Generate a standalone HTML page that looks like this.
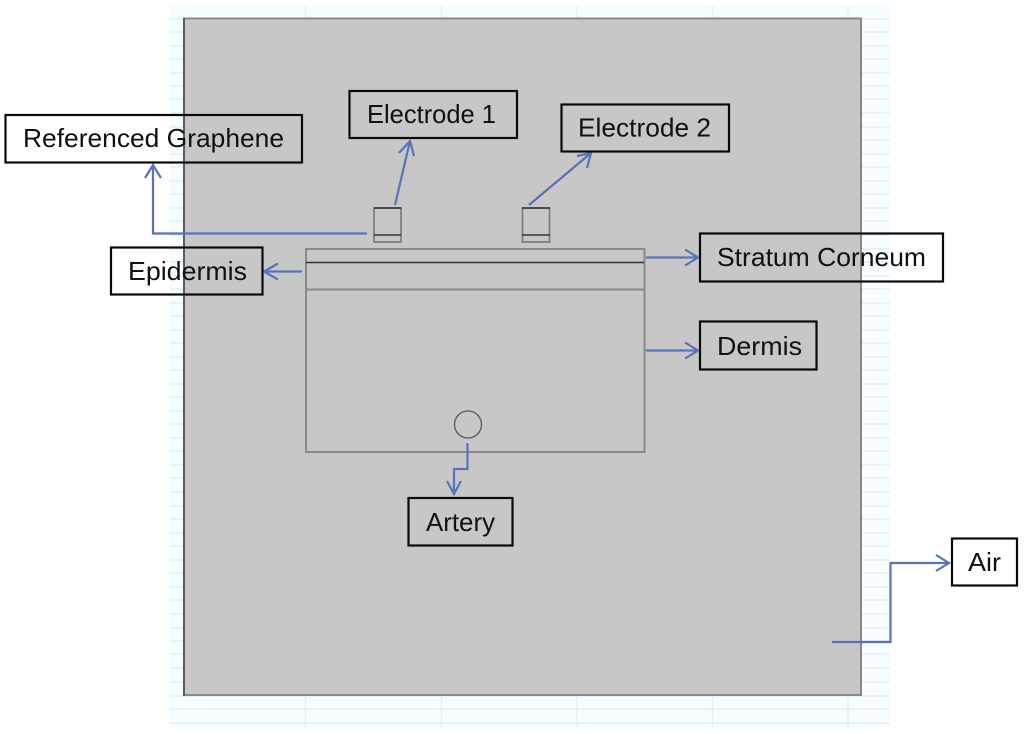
<!DOCTYPE html>
<html><head><meta charset="utf-8"><style>
html,body{margin:0;padding:0;background:#fff}
svg{display:block}
text{font-family:"Liberation Sans",sans-serif;font-size:26px;fill:#111}
.b{fill:none;stroke:#0a0a0a;stroke-width:2.2}
.a{fill:none;stroke:#5a72b8;stroke-width:2.2}
.g{fill:none;stroke:#8a8a8a;stroke-width:2}
.k{stroke:#333;stroke-width:1.5}
.gl{stroke:#e6eef0;stroke-width:1.5}
</style></head><body>
<svg width="1024" height="734" viewBox="0 0 1024 734" xmlns="http://www.w3.org/2000/svg">
<rect width="1024" height="734" fill="#fff"/>
<rect x="170" y="6" width="720" height="721" fill="#f6fcff"/>
<g class="gl">
<path d="M170 19H890M170 32H890M170 46H890M170 59H890M170 73H890M170 86H890M170 99H890M170 113H890M170 127H890M170 140H890M170 154H890M170 167H890M170 181H890M170 194H890M170 208H890M170 221H890M170 235H890M170 249H890M170 262H890M170 276H890M170 289H890M170 303H890M170 316H890M170 330H890M170 343H890M170 357H890M170 370H890M170 384H890M170 397H890M170 411H890M170 424H890M170 438H890M170 451H890M170 465H890M170 478H890M170 492H890M170 506H890M170 519H890M170 533H890M170 546H890M170 560H890M170 573H890M170 587H890M170 600H890M170 614H890M170 628H890M170 641H890M170 654H890M170 668H890M170 682H890M170 696H890M170 709H890M170 723H890" fill="none"/>
<path d="M305.500 6V727M441.500 6V727M577 6V727M712.500 6V727M848 6V727" fill="none"/>
</g>
<rect x="184" y="18.500" width="677" height="676.500" fill="#c8c7c7" stroke="#888" stroke-width="2"/>
<path d="M184 18V696" stroke="#5c5c5c" stroke-width="2"/>

<rect x="306" y="249" width="338.500" height="203" class="g"/>
<path d="M306 262.500H644" class="k"/>
<path d="M306 289.500H644" class="g"/>
<circle cx="468" cy="424.500" r="13.500" fill="none" stroke="#666" stroke-width="1.500"/>

<rect x="374" y="208" width="27" height="34" fill="none" stroke="#808080" stroke-width="1.800"/>
<path d="M374 208H401M374 235H401" class="k"/>
<rect x="522.500" y="208" width="27" height="34" fill="none" stroke="#808080" stroke-width="1.800"/>
<path d="M522 208H550M522 235H550" class="k"/>

<path class="a" d="M367 233.500H153V165M145 178L153 165L161 178"/>
<path class="a" d="M395 205L410 141M399 153L410 141L414 156"/>
<path class="a" d="M529 205L591 153M577 156L591 153L587 168"/>
<path class="a" d="M302 271.500H264M278 263.500L264 271.500L278 279.500"/>
<path class="a" d="M646 257.500H698M685 249.500L698 257.500L685 265.500"/>
<path class="a" d="M646 350.500H698M685 342.500L698 350.500L685 358.500"/>
<path class="a" d="M467.500 443V469H454V494M447 481L454 494L461 481"/>
<path class="a" d="M832 642H890.500V563H949M936 555L949 563L936 571"/>

<rect class="b" x="5.500" y="115" width="296.500" height="47.500"/>
<text x="23" y="147" textLength="261" lengthAdjust="spacingAndGlyphs">Referenced Graphene</text>
<rect class="b" x="349.500" y="91" width="167.500" height="47"/>
<text x="367" y="123" textLength="129" lengthAdjust="spacingAndGlyphs">Electrode 1</text>
<rect class="b" x="561.500" y="104.500" width="167.500" height="47"/>
<text x="578" y="136.500" textLength="133" lengthAdjust="spacingAndGlyphs">Electrode 2</text>
<rect class="b" x="111" y="247.500" width="151.500" height="47"/>
<text x="128" y="280" textLength="119" lengthAdjust="spacingAndGlyphs">Epidermis</text>
<rect class="b" x="700" y="233.500" width="243" height="48"/>
<text x="717" y="266" textLength="209" lengthAdjust="spacingAndGlyphs">Stratum Corneum</text>
<rect class="b" x="700" y="321.500" width="116.500" height="48"/>
<text x="717" y="355" textLength="85" lengthAdjust="spacingAndGlyphs">Dermis</text>
<rect class="b" x="408.500" y="498" width="104" height="47.500"/>
<text x="426" y="531" textLength="69" lengthAdjust="spacingAndGlyphs">Artery</text>
<rect class="b" x="952" y="538.500" width="65" height="47"/>
<text x="968" y="571" textLength="33" lengthAdjust="spacingAndGlyphs">Air</text>
</svg>
</body></html>
